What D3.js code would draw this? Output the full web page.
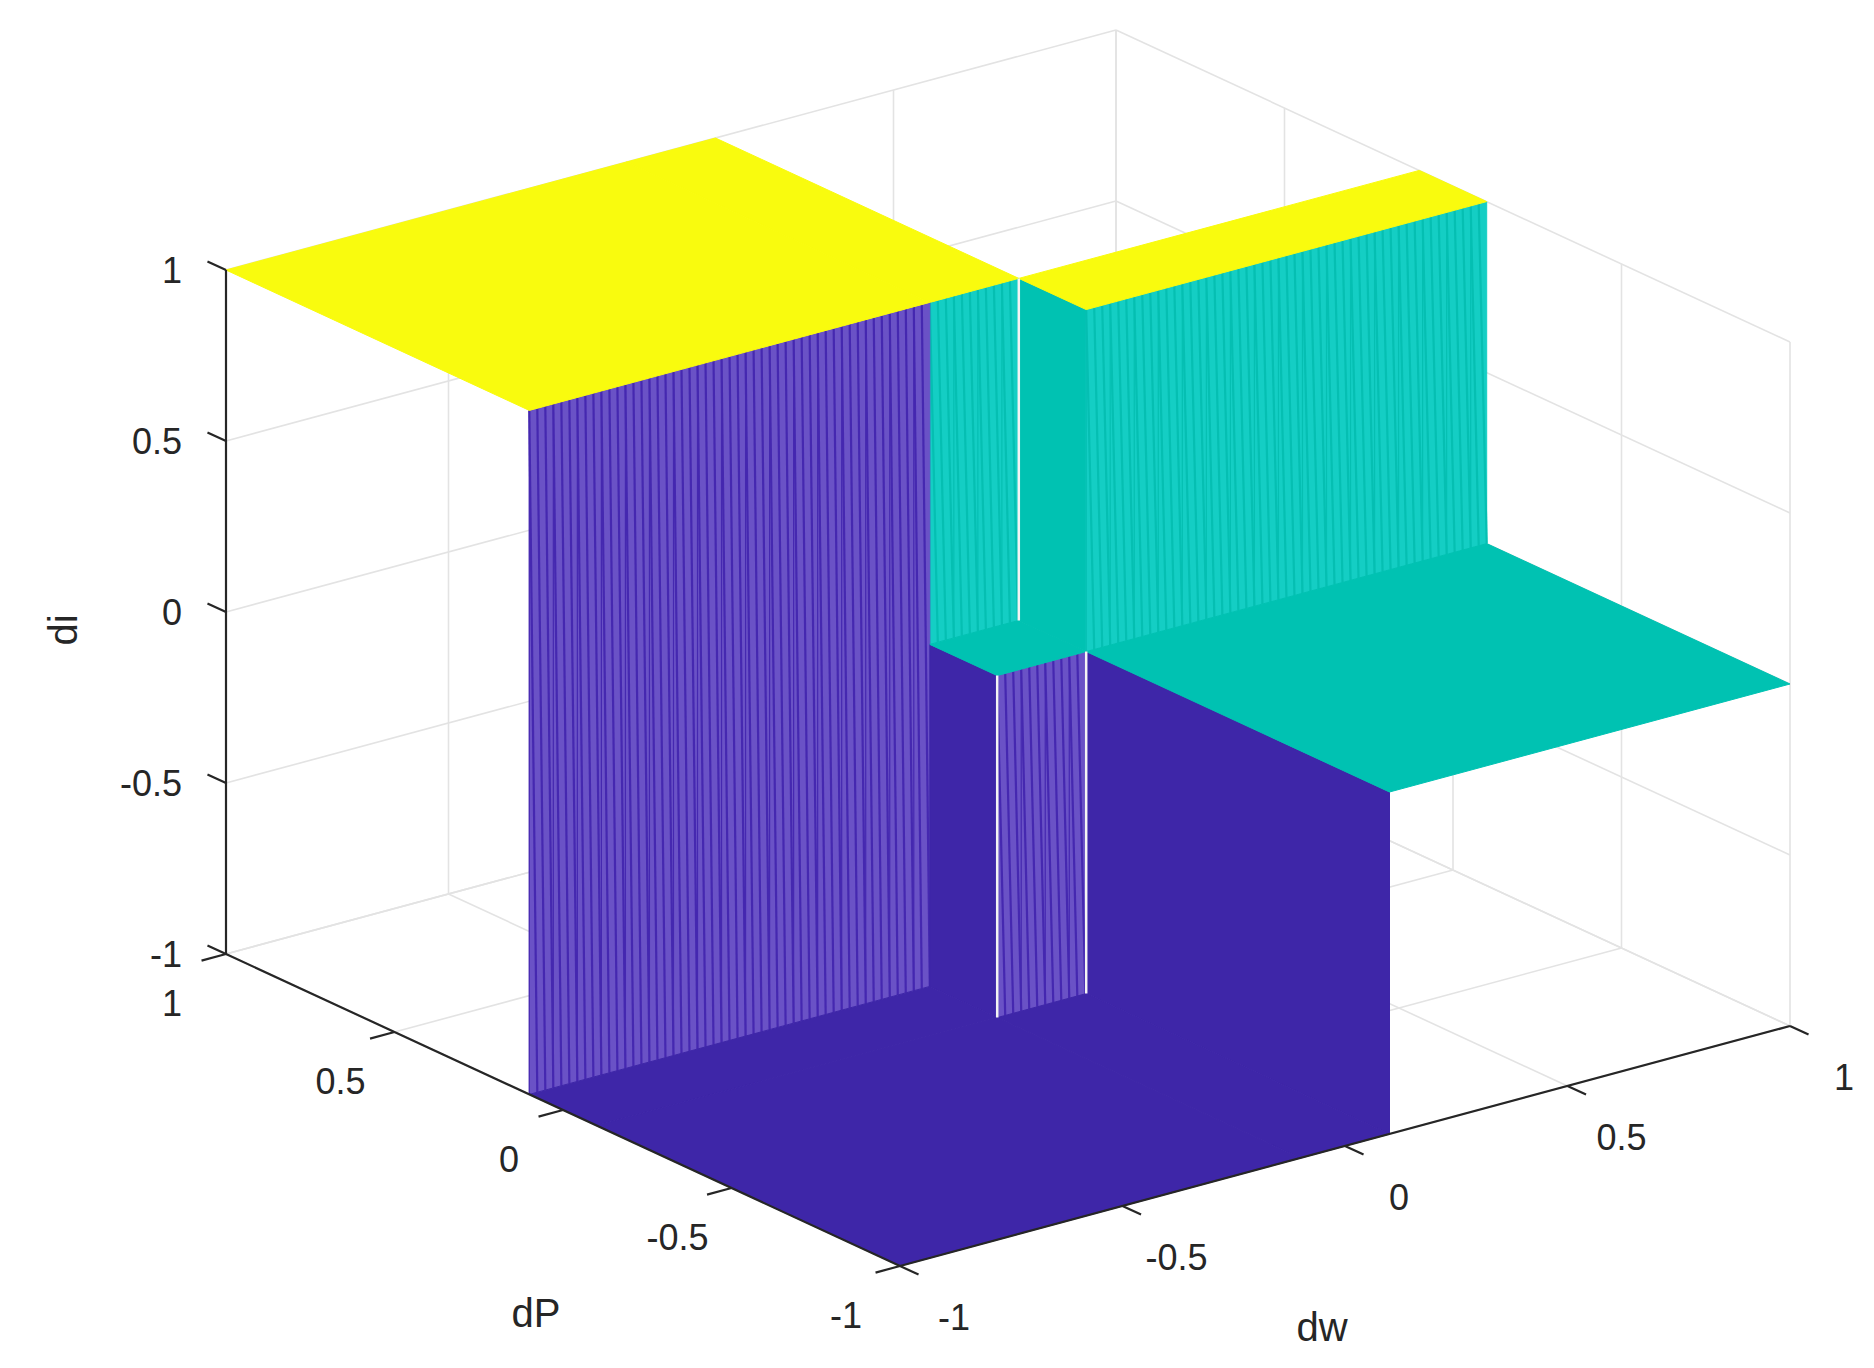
<!DOCTYPE html>
<html><head><meta charset="utf-8">
<script src="https://cdn.jsdelivr.net/npm/d3@7"></script>
<style>body{margin:0;background:#fff}svg{display:block}text{font-family:"Liberation Sans",Arial,sans-serif;fill:#262626}</style>
</head><body>
<script>
// ---- data ----
const dwEdges = [-1, -0.1, 0.1, 1];
const dPEdges = [-1, -0.1, 0.1, 1];
// diLevels[i][j]: dw band i, dP band j
const diLevels = [
  [-1, -1, 1],
  [-1,  0, 1],
  [ 0,  1, 0]
];
const tickValues = [-1, -0.5, 0, 0.5, 1];
const tickLabels = ["-1", "-0.5", "0", "0.5", "1"];

const W = 1874, H = 1368;
const svg = d3.select("body").append("svg").attr("width", W).attr("height", H);

// ---- projection built from scales ----
const sx = d3.scaleLinear().domain([-1, 1]).range([0, 2]);
const sy = d3.scaleLinear().domain([-1, 1]).range([0, 2]);
const sz = d3.scaleLinear().domain([-1, 1]).range([0, 2]);
const O = [900, 1266], EX = [445, -120], EY = [-337, -156], EZ = [0, -342];
function P(w, p, z) {
  const a = sx(w), b = sy(p), c = sz(z);
  return [O[0] + a * EX[0] + b * EY[0] + c * EZ[0], O[1] + a * EX[1] + b * EY[1] + c * EZ[1]];
}
const color = d3.scaleLinear().domain([-1, 0, 1]).range(["#3e26a8", "#00c2b2", "#f9fb0e"]);
const wallColor = d3.scaleLinear().domain([-1, 0, 1]).range(["#6a52c6", "#14cec4", "#f9fb0e"]);
const hatchColor = d3.scaleLinear().domain([-1, 0, 1]).range(["#4528b0", "#05bfb2", "#e0e000"]);
const line = d3.line();

// ---- grid on back planes ----
const grid = svg.append("g").attr("stroke", "#e3e3e3").attr("stroke-width", 1.6).attr("fill", "none");
tickValues.forEach(t => {
  grid.append("path").attr("d", line([P(t, 1, -1), P(t, 1, 1)]));
  grid.append("path").attr("d", line([P(-1, 1, t), P(1, 1, t)]));
  grid.append("path").attr("d", line([P(1, t, -1), P(1, t, 1)]));
  grid.append("path").attr("d", line([P(1, -1, t), P(1, 1, t)]));
  grid.append("path").attr("d", line([P(t, -1, -1), P(t, 1, -1)]));
  grid.append("path").attr("d", line([P(-1, t, -1), P(1, t, -1)]));
});

// ---- surface: build blocks ----
const cells = [];
for (let i = 0; i < 3; i++) for (let j = 0; j < 3; j++) {
  const w0 = dwEdges[i], w1 = dwEdges[i + 1], p0 = dPEdges[j], p1 = dPEdges[j + 1], z = diLevels[i][j];
  const faces = [];
  if (i > 0 && diLevels[i - 1][j] < z) faces.push({type: "w", w: w0, p0, p1, z0: diLevels[i - 1][j], z1: z});
  if (j > 0 && diLevels[i][j - 1] < z) faces.push({type: "p", p: p0, w0, w1, z0: diLevels[i][j - 1], z1: z});
  cells.push({w0, w1, p0, p1, z, faces, depth: (w0 + w1) / 2 + 1.32 * (p0 + p1) / 2});
}
cells.sort((a, b) => b.depth - a.depth);

const surf = svg.append("g");
const seams = [];
cells.forEach(c => {
  c.faces.forEach(f => {
    if (f.type === "w") {
      surf.append("path").attr("d", line([P(f.w, f.p0, f.z0), P(f.w, f.p1, f.z0), P(f.w, f.p1, f.z1), P(f.w, f.p0, f.z1)]) + "Z")
        .attr("fill", color(f.z0)).attr("stroke", color(f.z0)).attr("stroke-width", 1);
    } else {
      surf.append("path").attr("d", line([P(f.w0, f.p, f.z0), P(f.w1, f.p, f.z0), P(f.w1, f.p, f.z1), P(f.w0, f.p, f.z1)]) + "Z")
        .attr("fill", wallColor(f.z0)).attr("stroke", wallColor(f.z0)).attr("stroke-width", 1);
      const step = 0.018, n = Math.floor((f.w1 - f.w0) / step);
      const hg = surf.append("g").attr("stroke", hatchColor(f.z0)).attr("stroke-width", 2.2).attr("fill", "none");
      for (let k = 0; k < n; k++) {
        const a = f.w0 + k * step, b = Math.min(f.w1, a + step);
        hg.append("path").attr("d", line([P(a, f.p, f.z1), P(b, f.p, f.z0)]));
        if (k % 3 === 0) hg.append("path").attr("d", line([P(a, f.p, f.z1), P(a, f.p, f.z0)])).attr("stroke-width", 1.2);
      }
      if (f.w1 - f.w0 < 0.3) {
        seams.push([P(f.w1, f.p, f.z0), P(f.w1, f.p, f.z1)]);
        if (f.z0 < 0) seams.push([P(f.w0, f.p, f.z0), P(f.w0, f.p, f.z1)]);
      }
    }
  });
  surf.append("path").attr("d", line([P(c.w0, c.p0, c.z), P(c.w1, c.p0, c.z), P(c.w1, c.p1, c.z), P(c.w0, c.p1, c.z)]) + "Z")
    .attr("fill", color(c.z)).attr("stroke", color(c.z)).attr("stroke-width", 1);
});
seams.forEach(s => surf.append("path").attr("d", line(s)).attr("stroke", "#f4f4f4").attr("stroke-width", 2.5));

// ---- axes ----
const ax = svg.append("g").attr("stroke", "#262626").attr("stroke-width", 2.2).attr("fill", "none");
ax.append("path").attr("d", line([P(-1, 1, -1), P(-1, 1, 1)]));
ax.append("path").attr("d", line([P(-1, -1, -1), P(-1, 1, -1)]));
ax.append("path").attr("d", line([P(-1, -1, -1), P(1, -1, -1)]));
const tl = 0.055;
const lab = svg.append("g").attr("font-size", 36);
tickValues.forEach((t, k) => {
  // z ticks
  ax.append("path").attr("d", line([P(-1, 1, t), P(-1, 1 + tl, t)]));
  let q = P(-1, 1, t);
  lab.append("text").attr("x", q[0] - 44).attr("y", q[1] + 3).attr("text-anchor", "end").attr("dominant-baseline", "middle").text(tickLabels[k]);
  // dP ticks
  ax.append("path").attr("d", line([P(-1, t, -1), P(-1 - tl, t, -1)]));
  q = P(-1, t, -1);
  lab.append("text").attr("x", q[0] - 54).attr("y", q[1] + 52).attr("text-anchor", "middle").attr("dominant-baseline", "middle").text(tickLabels[k]);
  // dw ticks
  ax.append("path").attr("d", line([P(t, -1, -1), P(t, -1 - tl, -1)]));
  q = P(t, -1, -1);
  lab.append("text").attr("x", q[0] + 54).attr("y", q[1] + 54).attr("text-anchor", "middle").attr("dominant-baseline", "middle").text(tickLabels[k]);
});
lab.append("text").attr("transform", "translate(66,630) rotate(-90)").attr("text-anchor", "middle").attr("dominant-baseline", "middle").attr("font-size", 40).text("di");
lab.append("text").attr("x", 536).attr("y", 1316).attr("text-anchor", "middle").attr("dominant-baseline", "middle").attr("font-size", 40).text("dP");
lab.append("text").attr("x", 1322).attr("y", 1330).attr("text-anchor", "middle").attr("dominant-baseline", "middle").attr("font-size", 40).text("dw");
</script>
</body></html>
